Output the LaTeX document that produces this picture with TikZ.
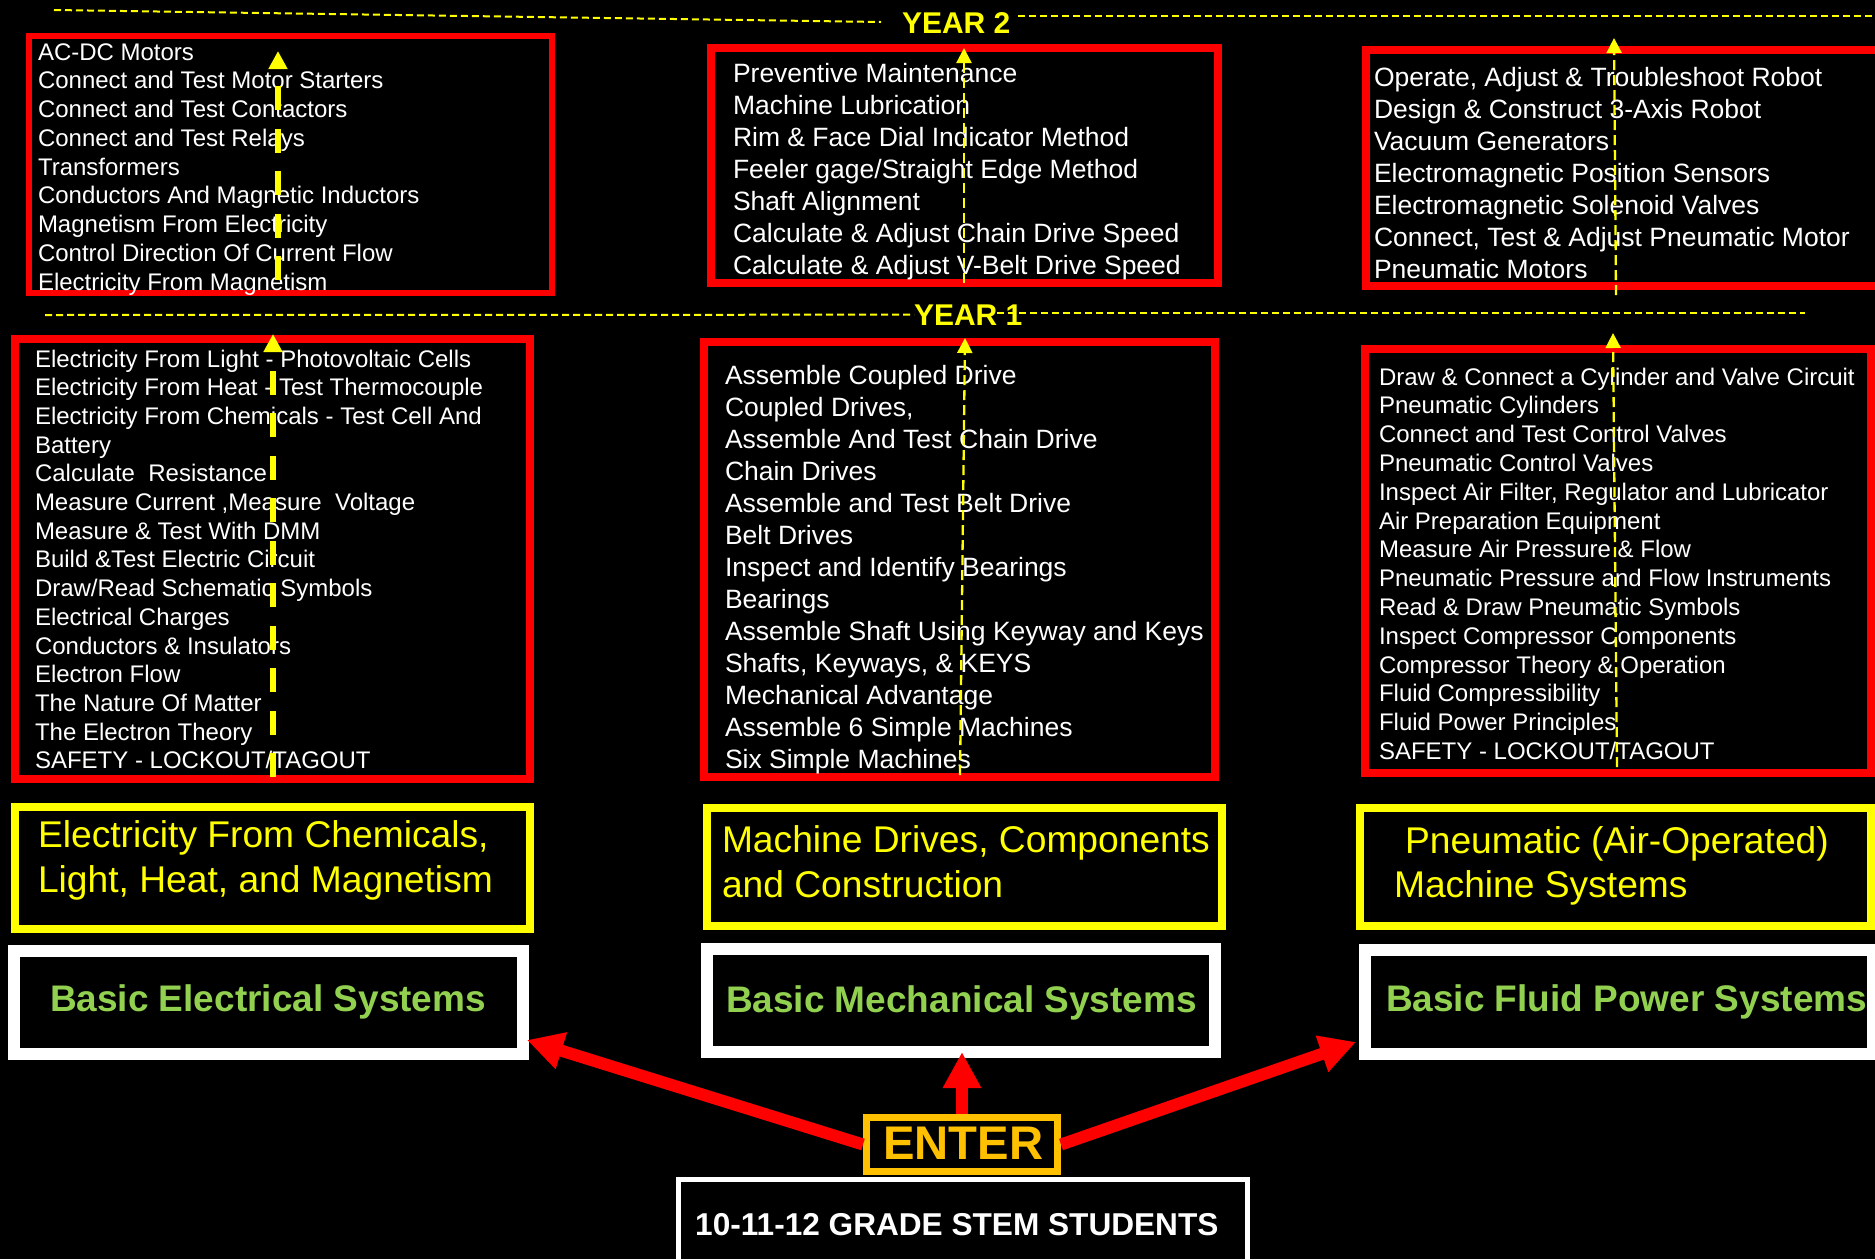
\documentclass[tikz,border=0pt]{standalone}
\usepackage{fontspec}
\setmainfont{Liberation Sans}
\usetikzlibrary{arrows.meta,calc}
\definecolor{ppred}{RGB}{255,0,0}
\definecolor{ppyellow}{RGB}{255,255,0}
\definecolor{ppgold}{RGB}{255,192,0}
\definecolor{ppgreen}{RGB}{146,208,80}
\begin{document}
\begin{tikzpicture}[x=1pt,y=-1pt,
  box/.style={draw, rectangle, inner sep=0pt, outer sep=0pt, anchor=center},
  redbox/.style={box, draw=ppred, line width=8pt},
  yelbox/.style={box, draw=ppyellow, line width=8pt},
  whitebox/.style={box, draw=white, line width=12pt},
  listtext/.style={anchor=base west, inner sep=0pt, outer sep=0pt, align=left, text=white},
  smalllist/.style={listtext, font=\fontsize{24pt}{28.75pt}\selectfont},
  biglist/.style={listtext, font=\fontsize{26.5pt}{32pt}\selectfont},
  titletext/.style={anchor=base west, inner sep=0pt, outer sep=0pt, align=left, text=ppyellow, font=\fontsize{37.2pt}{45pt}\selectfont},
  basictext/.style={anchor=base west, inner sep=0pt, outer sep=0pt, text=ppgreen, font=\fontsize{37pt}{44pt}\selectfont\bfseries},
  yeartext/.style={anchor=base west, inner sep=0pt, outer sep=0pt, text=ppyellow, font=\fontsize{30pt}{36pt}\selectfont\bfseries},
  yearline/.style={draw=ppyellow, line width=2pt, dash pattern=on 7pt off 4pt},
  thickdash/.style={draw=ppyellow, line width=6.5pt, dash pattern=on 24pt off 18.5pt, -{Triangle[length=18pt,width=18pt]}},
  thindash/.style={draw=ppyellow, line width=2.3pt, dash pattern=on 10pt off 5pt, -{Triangle[length=15pt,width=15pt]}},
  redarrow/.style={draw=ppred, line width=12pt, -{Triangle[length=36pt,width=36pt]}}
]
\useasboundingbox (0,0) rectangle (1875,1259);
\fill[black] (0,0) rectangle (1875,1259);
\clip (0,0) rectangle (1875,1259);

% year labels and dashed separators
\node[yeartext] (year2) at (902,33) {YEAR 2};
\node[yeartext] (year1) at (914,325) {YEAR 1};
\coordinate (y2a) at (54,10);
\coordinate (y2b) at (881,22);
\coordinate (y2c) at (1018,16);
\coordinate (y2d) at (1875,16);
\coordinate (y1a) at (45,315);
\coordinate (y1c) at (997,313);
\coordinate (y1d) at (1805,313);
\draw[yearline] (y2a) -- (y2b);
\draw[yearline] (y2c) -- (y2d);
\draw[yearline] (y1a) -- (year1.west);
\draw[yearline] (y1c) -- (y1d);

% red list boxes
\node[redbox, line width=6pt, minimum width=523pt, minimum height=257pt] (e2box) at (290.5,164.5) {};
\node[redbox, minimum width=507pt, minimum height=235pt] (m2box) at (964.5,165.5) {};
\node[redbox, minimum width=519pt, minimum height=236pt] (f2box) at (1625.5,168) {};
\node[redbox, minimum width=515pt, minimum height=440pt] (e1box) at (272.5,559) {};
\node[redbox, minimum width=511pt, minimum height=435pt] (m1box) at (959.5,559.5) {};
\node[redbox, minimum width=506pt, minimum height=424pt] (f1box) at (1618,561) {};

% yellow title boxes
\node[yelbox, minimum width=515pt, minimum height=122pt] (e0box) at (272.5,868) {};
\node[yelbox, minimum width=515pt, minimum height=118pt] (m0box) at (964.5,867) {};
\node[yelbox, minimum width=511pt, minimum height=118pt] (f0box) at (1615.5,867) {};

% white system boxes
\node[whitebox, minimum width=509pt, minimum height=103pt] (ewbox) at (268.5,1002.5) {};
\node[whitebox, minimum width=508pt, minimum height=103pt] (mwbox) at (961,1000.5) {};
\node[whitebox, minimum width=508pt, minimum height=104pt] (fwbox) at (1619,1002) {};

% list texts (anchored at the baseline of the last line)
\node[smalllist] (e2text) at (38,290) {AC-DC Motors\\Connect and Test Motor Starters\\Connect and Test Contactors\\Connect and Test Relays\\Transformers\\Conductors And Magnetic Inductors\\Magnetism From Electricity\\Control Direction Of Current Flow\\Electricity From Magnetism};
\node[listtext, font=\fontsize{24pt}{28.7pt}\selectfont] (e1text) at (35,768.8) {Electricity From Light - Photovoltaic Cells\\Electricity From Heat - Test Thermocouple\\Electricity From Chemicals - Test Cell And\\Battery\\Calculate~~Resistance\\Measure Current ,Measure~~Voltage\\Measure \& Test With DMM\\Build \&Test Electric Circuit\\Draw/Read Schematic Symbols\\Electrical Charges\\Conductors \& Insulators\\Electron Flow\\The Nature Of Matter\\The Electron Theory\\SAFETY - LOCKOUT/TAGOUT};
\node[biglist] (m2text) at (733,274) {Preventive Maintenance\\Machine Lubrication\\Rim \& Face Dial Indicator Method\\Feeler gage/Straight Edge Method\\Shaft Alignment\\Calculate \& Adjust Chain Drive Speed\\Calculate \& Adjust V-Belt Drive Speed};
\node[biglist] (f2text) at (1374,278) {Operate, Adjust \& Troubleshoot Robot\\Design \& Construct 3-Axis Robot\\Vacuum Generators\\Electromagnetic Position Sensors\\Electromagnetic Solenoid Valves\\Connect, Test \& Adjust Pneumatic Motor\\Pneumatic Motors};
\node[biglist] (m1text) at (725,768) {Assemble Coupled Drive\\Coupled Drives,\\Assemble And Test Chain Drive\\Chain Drives\\Assemble and Test Belt Drive\\Belt Drives\\Inspect and Identify Bearings\\Bearings\\Assemble Shaft Using Keyway and Keys\\Shafts, Keyways, \& KEYS\\Mechanical Advantage\\Assemble 6 Simple Machines\\Six Simple Machines};
\node[listtext, font=\fontsize{24pt}{28.8pt}\selectfont] (f1text) at (1379,759.4) {Draw \& Connect a Cylinder and Valve Circuit\\Pneumatic Cylinders\\Connect and Test Control Valves\\Pneumatic Control Valves\\Inspect Air Filter, Regulator and Lubricator\\Air Preparation Equipment\\Measure Air Pressure \& Flow\\Pneumatic Pressure and Flow Instruments\\Read \& Draw Pneumatic Symbols\\Inspect Compressor Components\\Compressor Theory \& Operation\\Fluid Compressibility\\Fluid Power Principles\\SAFETY - LOCKOUT/TAGOUT};

% title texts
\node[titletext] (etitle) at (38,892) {Electricity From Chemicals,\\Light, Heat, and Magnetism};
\node[titletext] (mtitle) at (722,897) {Machine Drives, Components\\and Construction};
\node[titletext, font=\fontsize{37.2pt}{44pt}\selectfont] (ftitle) at (1394,897) {\hspace*{11pt}Pneumatic (Air-Operated)\\Machine Systems};

% basic system texts
\node[basictext] (ebasic) at (50,1011) {Basic Electrical Systems};
\node[basictext] (mbasic) at (726,1012) {Basic Mechanical Systems};
\node[basictext] (fbasic) at (1386,1011) {Basic Fluid Power Systems};

% yellow dashed progression arrows
\coordinate (e2tail) at (278,280);  \coordinate (e2tip) at (278,51);
\coordinate (e1tail) at (273,777);  \coordinate (e1tip) at (273,334);
\coordinate (m2tail) at (964,283);  \coordinate (m2tip) at (964,48);
\coordinate (m1tail) at (960,775);  \coordinate (m1tip) at (965,338);
\coordinate (f2tail) at (1616,295); \coordinate (f2tip) at (1614,38);
\coordinate (f1tail) at (1617,767); \coordinate (f1tip) at (1613,333);
\draw[thickdash] (e2tail) -- (e2tip);
\draw[thickdash] (e1tail) -- (e1tip);
\draw[thindash] (m2tail) -- (m2tip);
\draw[thindash] (m1tail) -- (m1tip);
\draw[thindash] (f2tail) -- (f2tip);
\draw[thindash] (f1tail) -- (f1tip);

% enter box and red arrows
\node[box, draw=ppgold, line width=7pt, fill=black, minimum width=191pt, minimum height=54pt] (enter) at (962,1144.5) {};
\node[anchor=base west, inner sep=0pt, text=ppgold, font=\fontsize{47.2pt}{56pt}\selectfont\bfseries] (entertext) at (883,1159) {ENTER};
\draw[redarrow] ($(enter.west)+(-3.5,0)$) -- ($(ewbox.south east)+(4,-14)$);
\draw[redarrow] ($(enter.north)+(0,-3.5)$) -- (enter.north |- mwbox.south);
\draw[redarrow] ($(enter.east)+(3.5,0)$) -- ($(fwbox.south west)+(-9,-12)$);

% students box
\node[box, draw=white, line width=5pt, minimum width=569pt, minimum height=100pt] (students) at (963,1229.75) {};
\node[anchor=base west, inner sep=0pt, text=white, font=\fontsize{31.6pt}{38pt}\selectfont\bfseries] (studtext) at (695,1235) {10-11-12 GRADE STEM STUDENTS};
\end{tikzpicture}
\end{document}
